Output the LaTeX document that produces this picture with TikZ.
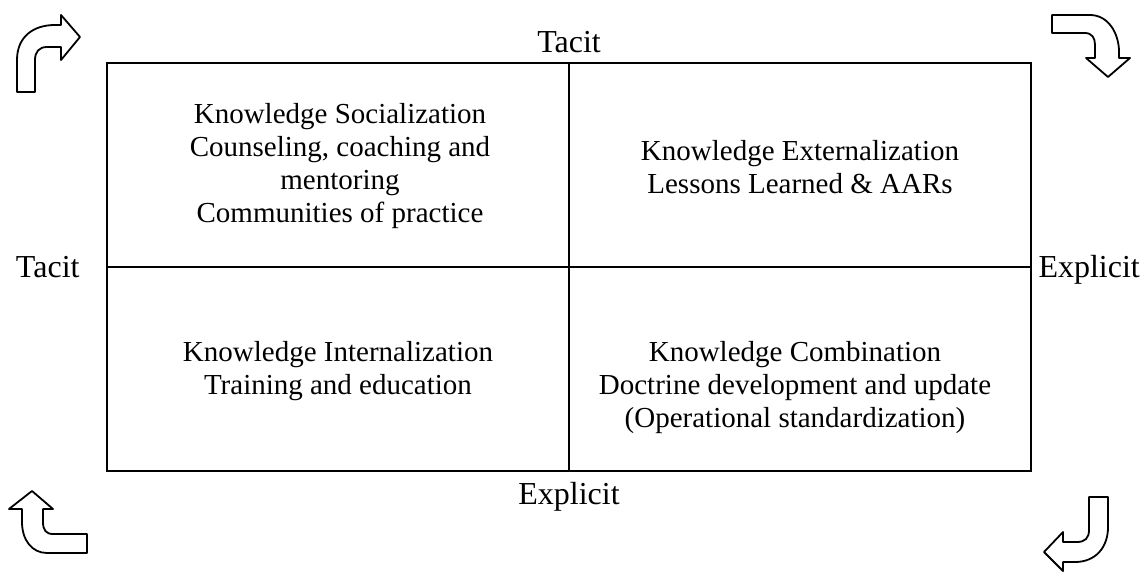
\documentclass[tikz,border=0pt]{standalone}
\usepackage{fontspec}
\setmainfont{Liberation Serif}
\usetikzlibrary{positioning,calc}
\tikzstyle{quadbox}=[rectangle, draw=black, line width=1.1pt, minimum width=462pt, minimum height=204pt, inner sep=0pt]
\tikzstyle{qtext}=[align=center, inner sep=0pt, font=\fontsize{14.5}{16.5}\selectfont]
\tikzstyle{axis}=[inner sep=0pt, font=\fontsize{16}{18}\selectfont]
\tikzstyle{turn}=[draw=black, line width=0.9pt, line join=round, fill=white]

\begin{document}
\begin{tikzpicture}[x=0.5pt, y=-0.5pt]
    \useasboundingbox (0,0) rectangle (1143,572);

    \node (box) [quadbox] at (569,267) {};
    \draw[line width=1.1pt] (box.north) -- (box.south);
    \draw[line width=1.1pt] (box.west) -- (box.east);

% quadrants
    \node (soc) [qtext] at (340,166)
	{Knowledge Socialization\\Counseling, coaching and\\mentoring\\Communities of practice};
    \node (ext) [qtext] at (800,167)
	{Knowledge Externalization\\Lessons Learned \& AARs};
    \node (int) [qtext] at (338,371)
	{Knowledge Internalization\\Training and education};
    \node (com) [qtext] at (795,388)
	{Knowledge Combination\\Doctrine development and update\\(Operational standardization)};

% axes
    \node (ttop) [axis, above=4.5pt of box.north] {Tacit};
    \node (ebot) [axis, below=5pt of box.south] {Explicit};
    \node (tleft) [axis, left=13pt of box.west] {Tacit};
    \node (eright) [axis, right=3pt of box.east, yshift=-1.5pt] {Explicit};

% corner arrows
    \draw[turn] (17,92) -- (17,60) .. controls (17,37) and (33,25) .. (55,25) -- (61,25)
        -- (61,15) -- (80,37) -- (61,60) -- (61,47) -- (47,47)
        .. controls (39,47) and (35,52) .. (35,60) -- (35,92) -- cycle;
    \draw[turn] (1052,15) -- (1090,15) .. controls (1108,15) and (1119,33) .. (1119,52) -- (1119,58)
        -- (1130,58) -- (1108,77) -- (1086,58) -- (1095,58) -- (1095,45)
        .. controls (1095,38) and (1092,33) .. (1085,33) -- (1052,33) -- cycle;
    \draw[turn] (87,553) -- (47,553) .. controls (32,553) and (22,540) .. (22,522) -- (22,509)
        -- (9,509) -- (32,491) -- (53,509) -- (43,509) -- (43,522)
        .. controls (43,530) and (46,534) .. (53,534) -- (87,534) -- cycle;
    \draw[turn] (1089,497) -- (1108,497) -- (1108,527) .. controls (1108,548) and (1095,562) .. (1075,562)
        -- (1063,562) -- (1063,571) -- (1044,552) -- (1063,532) -- (1063,542) -- (1077,542)
        .. controls (1085,542) and (1089,538) .. (1089,530) -- cycle;
\end{tikzpicture}
\end{document}
